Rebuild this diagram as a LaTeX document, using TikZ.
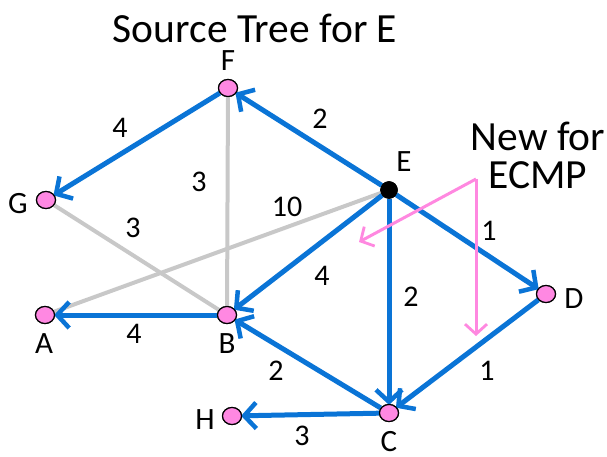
\documentclass[tikz,border=0pt]{standalone}
\usepackage{fontspec}
\setmainfont{Carlito}
\usetikzlibrary{arrows.meta,shapes.geometric}
\definecolor{eblue}{RGB}{10,116,214}
\definecolor{egray}{RGB}{200,200,200}
\definecolor{npink}{RGB}{255,136,226}
\definecolor{apink}{RGB}{255,136,224}
\begin{document}
\begin{tikzpicture}[x=1pt,y=-1pt,
  vtx/.style={ellipse,draw=black,line width=1.2pt,fill=npink,minimum width=19pt,minimum height=17pt,inner sep=0pt},
  src/.style={circle,draw=black,fill=black,minimum size=17pt,inner sep=0pt},
  tree/.style={draw=eblue,line width=5pt,-{Straight Barb[length=12pt,width=26pt,line width=4.5pt]},shorten >=-1pt},
  other/.style={draw=egray,line width=4pt},
  newp/.style={draw=apink,line width=3pt,-{Straight Barb[length=10pt,width=22pt,line width=2.8pt]}},
  lbl/.style={font=\fontsize{31}{33}\selectfont,inner sep=0pt},
  wt/.style={font=\fontsize{30}{33}\selectfont,inner sep=0pt},
  ttl/.style={font=\fontsize{41.5}{45}\selectfont,inner sep=0pt,align=center}]
\useasboundingbox (0,0) rectangle (607,457);
\node[ttl] (title) at (255,28) {Source Tree for E};
\node[ttl,align=center] (newecmp) at (538,155) {New for\\[-7pt]ECMP};
% vertices
\node[vtx] (F) at (228,88) {};
\node[vtx] (G) at (46,200) {};
\node[vtx] (A) at (45,315) {};
\node[vtx] (B) at (227,315) {};
\node[src] (E) at (389,190) {};
\node[vtx] (D) at (546,294) {};
\node[vtx] (C) at (389,413) {};
\node[vtx] (H) at (232,416) {};
% labels
\node[lbl] (lF) at (228,61) {F};
\node[lbl] (lG) at (18,204) {G};
\node[lbl] (lA) at (44,344) {A};
\node[lbl] (lB) at (227,344) {B};
\node[lbl] (lE) at (404,162) {E};
\node[lbl] (lD) at (574,299) {D};
\node[lbl] (lC) at (389,442) {C};
\node[lbl] (lH) at (205,420) {H};
% non-tree edges
\draw[other] (F) -- (B);
\draw[other] (G) -- (B);
\draw[other] (E) -- (A);
% tree edges
\draw[tree] (E) -- (F);
\draw[tree] (F) -- (G);
\draw[tree] (E) -- (B);
\draw[tree] (E) -- (C);
\draw[tree] (E) -- (D);
\draw[tree] (D) -- (C);
\draw[tree] (C) -- (B);
\draw[tree] (B) -- (A);
\draw[tree] (C) -- (H);
% redraw vertices on top
\foreach \v in {F,G,A,B,D,C,H} {\node[vtx] at (\v) {};}
\node[src] at (E) {};
% weights
\node[wt] (w1) at (320,119) {2};
\node[wt] (w2) at (120,128) {4};
\node[wt] (w3) at (199,182) {3};
\node[wt] (w4) at (133,228) {3};
\node[wt] (w5) at (287,207) {10};
\node[wt] (w6) at (322,276) {4};
\node[wt] (w7) at (411,297) {2};
\node[wt] (w8) at (489,231) {1};
\node[wt] (w9) at (134,334) {4};
\node[wt] (w10) at (276,371) {2};
\node[wt] (w11) at (487,371) {1};
\node[wt] (w12) at (302,436) {3};
% pink ECMP arrows
\coordinate (pk) at (476,179);
\coordinate (pl) at (359,242);
\coordinate (pd) at (476,336);
\draw[newp] (pk) -- (pl);
\draw[newp] (pk) -- (pd);
\end{tikzpicture}
\end{document}
